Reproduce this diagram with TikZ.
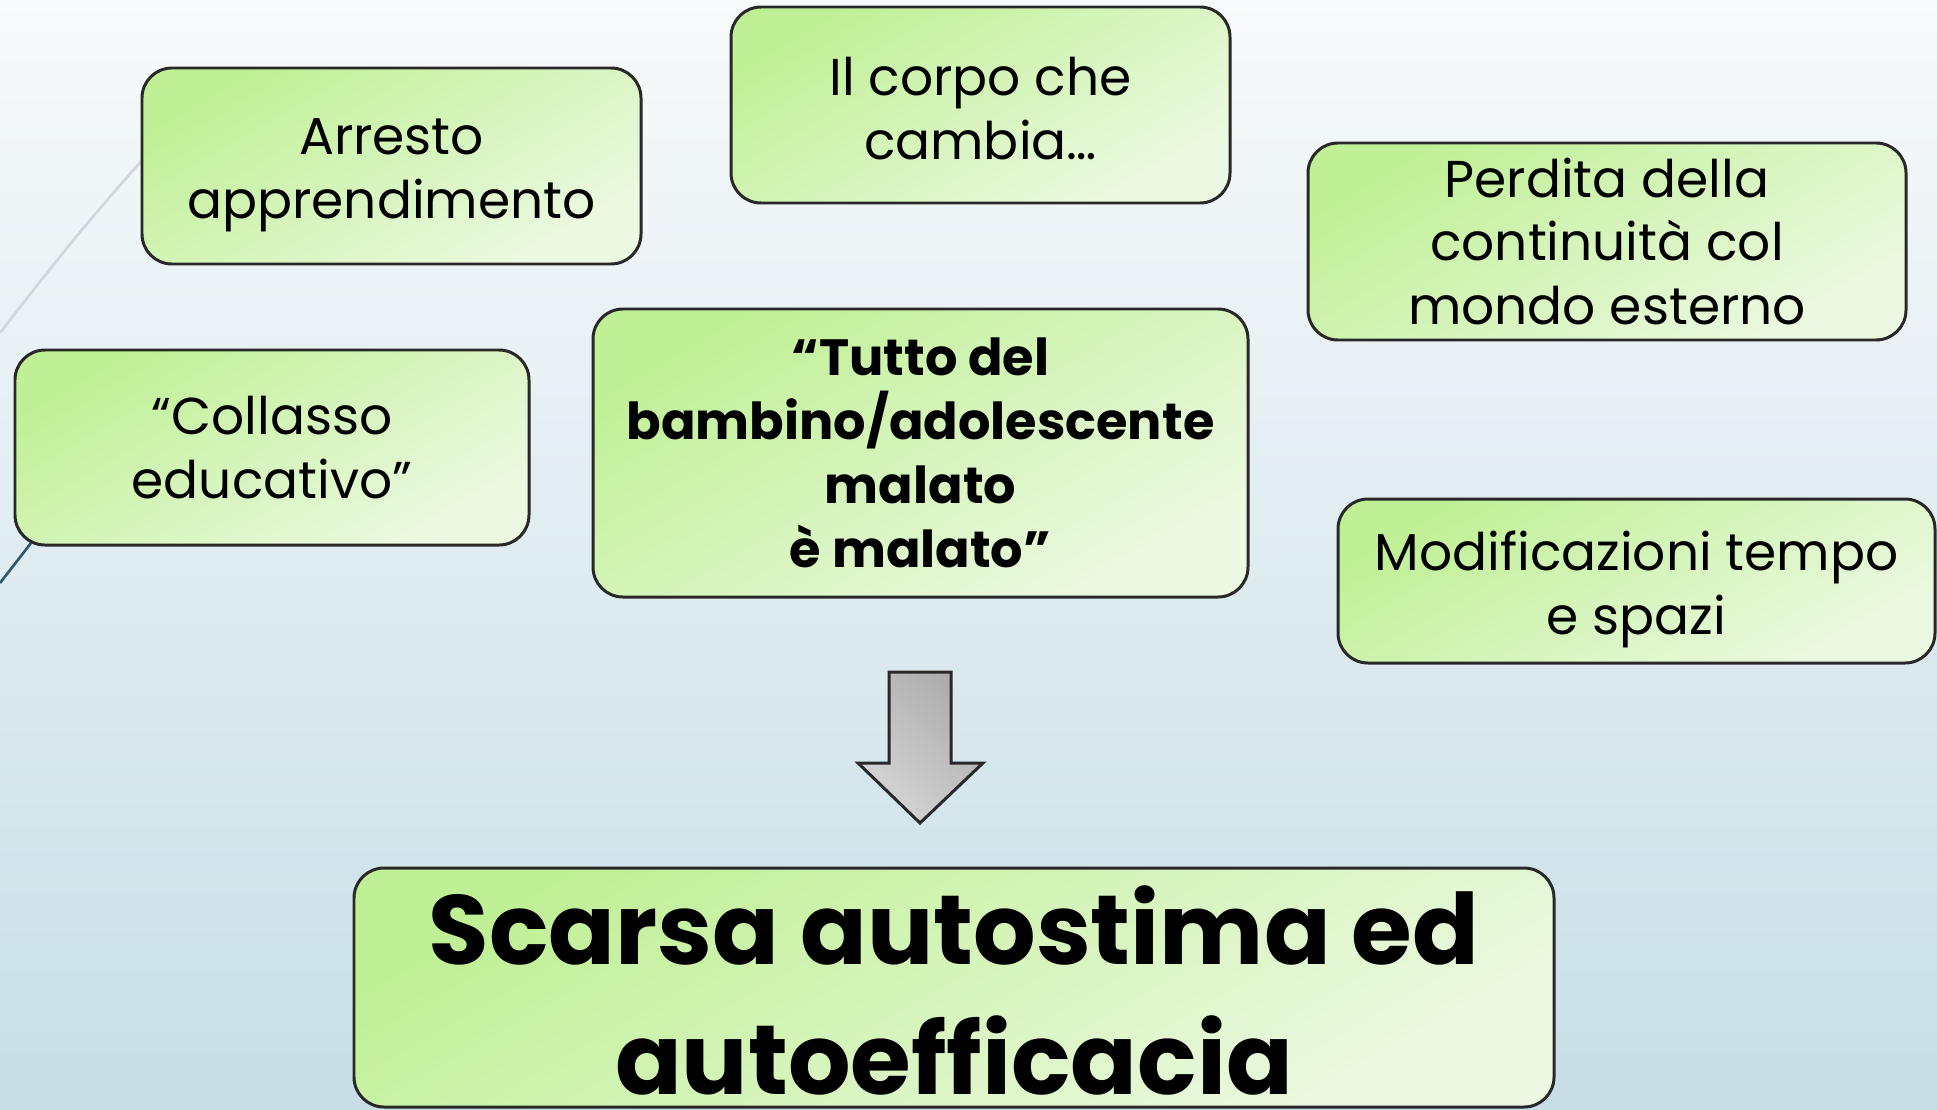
\documentclass[tikz,border=0pt]{standalone}
\usepackage{fontspec}
\setmainfont{Poppins}
\usetikzlibrary{positioning,shapes}

\definecolor{bgtop}{RGB}{248,250,251}
\definecolor{bgbottom}{RGB}{199,222,230}
\definecolor{greenA}{RGB}{192,240,150}
\definecolor{greenB}{RGB}{236,249,226}
\definecolor{boxline}{RGB}{40,40,40}
\definecolor{greyA}{RGB}{172,172,172}
\definecolor{greyB}{RGB}{214,214,214}
\definecolor{decoline}{RGB}{207,216,221}
\definecolor{darkdeco}{RGB}{46,88,112}

\begin{document}
\begin{tikzpicture}[%
        x=0.02cm, y=-0.02cm,
        boxsize/.style 2 args={%
          minimum width=#1*0.02cm,
          minimum height=#2*0.02cm
        },
        % a tall invisible rule beside the lines pushes the text down a little
        textdown/.style={%
          execute at begin node={\rule{0pt}{#1}}
        },
        idea/.style={%
          rectangle,
          rounded corners=0.6cm,
          draw=boxline,
          line width=1.7pt,
          top color=greenA,
          bottom color=greenB,
          shading angle=30,
          align=center,
          inner sep=0pt,
          font=\fontsize{29.5}{36.4}\selectfont
        },
        bigidea/.style={%
          idea,
          font=\bfseries\fontsize{56}{74}\selectfont
        }
      ]
      % background
      \fill[top color=bgtop, bottom color=bgbottom] (0,0) rectangle (1937,1109);
      \useasboundingbox (0,0) rectangle (1937,1109);
      % theme lines
      \draw[decoline, line width=1.5pt] (0,333) .. controls (50,268) and (100,205) .. (170,130);
      \draw[darkdeco, line width=1.5pt] (0,583) -- (45,525);
      % boxes
      \node[idea, boxsize={499}{196}, textdown=67pt] (arresto) at (391.5,166) {Arresto\\apprendimento};
      \node[idea, boxsize={499}{196}, textdown=62pt] (corpo) at (980.5,105) {Il corpo che\\cambia…};
      \node[idea, boxsize={598}{197}] (perdita) at (1607,241.5) {Perdita della\\continuità col\\mondo esterno};
      \node[idea, boxsize={514}{195}] (collasso) at (272,447.5) {“Collasso\\educativo”};
      \node[idea, boxsize={655}{288}, font=\bfseries\fontsize{29}{36.4}\selectfont] (tutto) at (920.5,453)
        {“Tutto del\\bambino/adolescente\\malato\\è malato”};
      \node[idea, boxsize={597}{164}, textdown=68pt] (modif) at (1636.5,581) {Modificazioni tempo\\e spazi};
      \node[bigidea, boxsize={1200}{239}, textdown=122pt] (scarsa) at (954,987.5) {Scarsa autostima ed\\autoefficacia};
      % block arrow
      \draw[boxline, line width=1.7pt, top color=greyA, bottom color=greyB, shading angle=-45]
        (889,672) -- (951,672) -- (951,763) -- (983,763) -- (920,823)
        -- (858,763) -- (889,763) -- cycle;
  \end{tikzpicture}
\end{document}
